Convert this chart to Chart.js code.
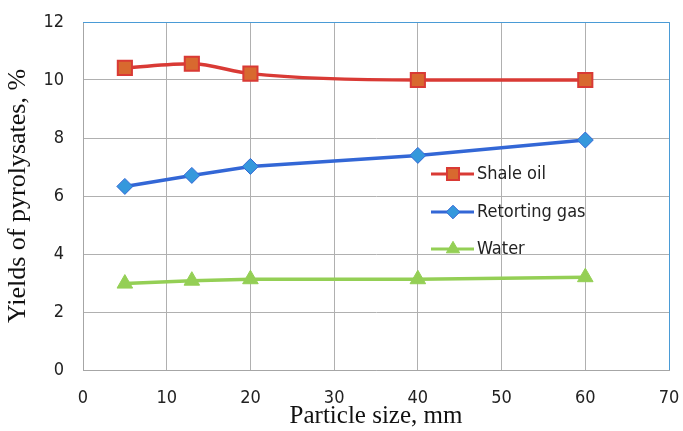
<!DOCTYPE html>
<html>
<head>
<meta charset="utf-8">
<script src="https://cdn.jsdelivr.net/npm/chart.js@4"></script>
<style>
  html, body { margin: 0; padding: 0; background: #fff; }
  #wrap { width: 683px; height: 431px; position: relative; }
</style>
</head>
<body>
<div id="wrap"><canvas id="c" width="683" height="431"></canvas></div>
<script>
// particle sizes (mm) and yields (%)
const particleSize = [5, 13, 20, 40, 60];
const shaleOil = [10.42, 10.56, 10.22, 10.0, 10.0];
const retortingGas = [6.33, 6.71, 7.02, 7.40, 7.93];
const water = [2.98, 3.08, 3.13, 3.13, 3.20];
const seriesNames = ['Shale oil', 'Retorting gas', 'Water'];

const tickFont = "'Liberation Sans Narrow', 'DejaVu Sans Condensed', sans-serif";
const titleFont = "'Liberation Serif', 'DejaVu Serif', serif";

function pts(ys) {
  return particleSize.map((x, i) => ({ x: x, y: ys[i] }));
}

// legend inside the plot, drawn by hand (Excel-like)
const insideLegend = {
  id: 'insideLegend',
  afterDatasetsDraw(chart) {
    const ctx = chart.ctx;
    const rows = [174, 212, 249];
    chart.data.datasets.forEach((ds, i) => {
      const y = rows[i];
      ctx.save();
      ctx.strokeStyle = ds.borderColor;
      ctx.lineWidth = 3;
      ctx.beginPath();
      ctx.moveTo(431, y);
      ctx.lineTo(474, y);
      ctx.stroke();
      ctx.fillStyle = ds.pointBackgroundColor;
      ctx.strokeStyle = ds.pointBorderColor;
      ctx.lineWidth = ds.pointBorderWidth;
      Chart.helpers.drawPoint(ctx, {
        pointStyle: ds.pointStyle,
        radius: ds.pointRadius * 0.85,
        borderWidth: ds.pointBorderWidth
      }, 453, y);
      ctx.fillStyle = '#222';
      ctx.font = "18px " + tickFont;
      ctx.textBaseline = 'middle';
      ctx.fillText(ds.label, 477, y);
      ctx.restore();
    });
  }
};

// thin blue frame at top and right like the original
const frame = {
  id: 'frame',
  beforeDatasetsDraw(chart) {
    const a = chart.chartArea, ctx = chart.ctx;
    ctx.save();
    ctx.strokeStyle = '#4a9bd6';
    ctx.lineWidth = 1;
    ctx.beginPath();
    ctx.moveTo(a.left, a.top + 0.5);
    ctx.lineTo(a.right + 0.5, a.top + 0.5);
    ctx.lineTo(a.right + 0.5, a.bottom);
    ctx.stroke();
    ctx.restore();
  }
};

new Chart(document.getElementById('c'), {
  type: 'line',
  data: {
    datasets: [
      {
        label: seriesNames[0], data: pts(shaleOil),
        borderColor: '#d93a35', borderWidth: 3.5,
        pointStyle: 'rect', pointRadius: 10,
        pointBackgroundColor: '#d8692f', pointBorderColor: '#d93a35', pointBorderWidth: 2,
        cubicInterpolationMode: 'monotone'
      },
      {
        label: seriesNames[1], data: pts(retortingGas),
        borderColor: '#3367d6', borderWidth: 3.5,
        pointStyle: 'rectRot', pointRadius: 8,
        pointBackgroundColor: '#3598dc', pointBorderColor: '#3367d6', pointBorderWidth: 1
      },
      {
        label: seriesNames[2], data: pts(water),
        borderColor: '#94cf55', borderWidth: 3.5,
        pointStyle: 'triangle', pointRadius: 9,
        pointBackgroundColor: '#94cf55', pointBorderColor: '#94cf55', pointBorderWidth: 1
      }
    ]
  },
  options: {
    responsive: false,
    animation: false,
    layout: { padding: { top: 22, right: 14, left: 0, bottom: 0 } },
    plugins: { legend: { display: false }, tooltip: { enabled: false } },
    scales: {
      x: {
        type: 'linear', min: 0, max: 70,
        ticks: { stepSize: 10, color: '#222', font: { family: tickFont, size: 18 }, padding: 18, maxRotation: 0 },
        grid: { color: '#b0b0b0', drawTicks: false },
        border: { color: '#a6a6a6' },
        title: { display: true, text: 'Particle size, mm', color: '#111', font: { family: titleFont, size: 25 }, padding: { top: 0, bottom: 0 } },
        afterFit(s) { s.height = 61; s.paddingLeft = 0; s.paddingRight = 0; }
      },
      y: {
        min: 0, max: 12,
        ticks: { stepSize: 2, color: '#222', font: { family: tickFont, size: 18 }, padding: 19 },
        grid: { color: '#b0b0b0', drawTicks: false },
        border: { color: '#a6a6a6' },
        title: { display: true, text: 'Yields of pyrolysates, %', color: '#111', font: { family: titleFont, size: 26 }, padding: { top: 3, bottom: 0 } },
        afterFit(s) { s.width = 83; s.paddingTop = 0; s.paddingBottom = 0; }
      }
    }
  },
  plugins: [frame, insideLegend]
});
</script>
</body>
</html>
